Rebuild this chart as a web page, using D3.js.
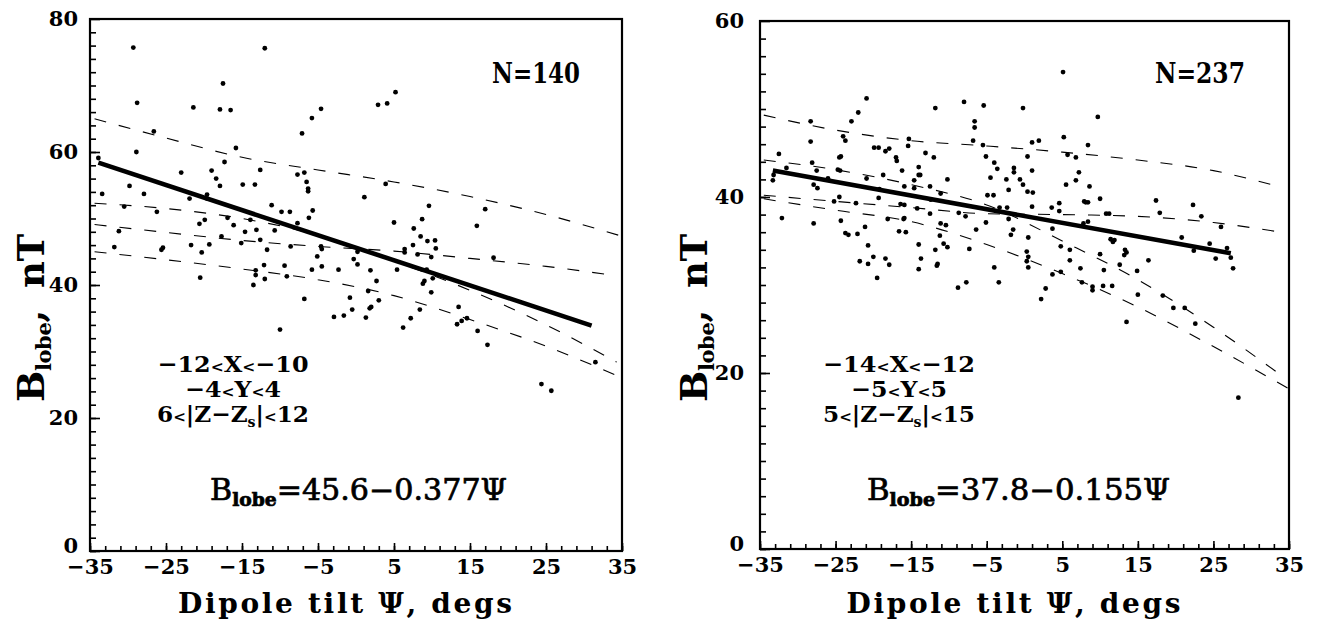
<!DOCTYPE html>
<html>
<head>
<meta charset="utf-8">
<script src="https://cdn.jsdelivr.net/npm/d3@7"></script>
<style>
    body { margin: 0; background: #fff; }
    text { font-family: 'DejaVu Serif', serif; fill: #000; }
</style>
</head>
<body>
<script>
// tick values
const tiltTicks = [-35, -25, -15, -5, 5, 15, 25, 35]
const leftYTicks = [0, 20, 40, 60, 80]
const rightYTicks = [0, 20, 40, 60]

const leftPoints = [
    [-29.3, 75.7], [-12.0, 75.6], [-17.5, 70.3], [-28.8, 67.4], [-21.4, 66.7], [-17.9, 66.4], [-16.5, 66.3],
    [-4.6, 66.5], [-5.8, 65.1], [-7.1, 62.8], [-26.6, 63.1], [-15.8, 60.6], [-28.9, 60.0], [-33.9, 59.1],
    [-17.3, 58.5], [-12.6, 57.3], [-19.0, 57.2], [-23.0, 56.9], [-7.7, 56.6], [-6.8, 56.9], [-6.5, 55.5],
    [-6.3, 54.5], [-6.3, 54.1], [-18.4, 56.0], [-17.9, 54.9], [-14.9, 55.1], [-13.3, 55.1], [-29.8, 54.9],
    [-33.4, 53.7], [-27.9, 53.7], [-21.9, 53.0], [-19.6, 53.6], [-19.6, 53.0], [-11.1, 52.0], [-30.5, 51.8],
    [-26.2, 51.0], [-9.8, 51.0], [-8.7, 51.0], [-5.7, 51.2], [-6.2, 50.1], [-16.9, 50.1], [-13.9, 49.8],
    [-19.9, 49.8], [-20.6, 49.2], [-16.1, 49.0], [-7.7, 49.3], [-13.1, 48.3], [-10.7, 48.2], [-14.6, 48.0],
    [-31.2, 48.1], [-17.7, 47.3], [-12.6, 46.8], [-15.1, 46.3], [-21.7, 46.0], [-19.3, 46.1], [-8.6, 45.8],
    [-4.6, 45.8], [-4.5, 45.4], [-31.8, 45.7], [-25.4, 45.6], [-25.6, 45.3], [-11.7, 45.3], [-20.3, 44.9],
    [-5.1, 44.3], [-0.3, 43.9], [0.2, 43.1], [-12.1, 43.0], [-9.4, 42.9], [-4.5, 42.8], [-13.2, 42.2],
    [-9.1, 41.3], [-13.2, 41.5], [-5.8, 42.3], [-2.3, 42.3], [-20.5, 41.1], [-12.0, 40.9], [-13.5, 40.0],
    [-6.8, 37.9], [-0.8, 38.1], [-0.5, 36.3], [-2.9, 35.2], [-1.6, 35.4], [-10.0, 33.3],
    [5.2, 69.0], [2.9, 67.1], [4.1, 67.3], [3.9, 55.2], [1.1, 53.2], [9.6, 51.9], [17.0, 51.4], [15.9, 48.9],
    [5.0, 49.4], [8.7, 49.9], [7.6, 48.5], [8.5, 47.3], [9.4, 46.6], [10.4, 46.7], [7.5, 46.0], [10.5, 45.5],
    [6.4, 45.4], [6.4, 44.9], [8.1, 44.6], [9.9, 44.2], [0.2, 45.0], [18.1, 44.1], [1.9, 42.2], [5.4, 42.3],
    [9.3, 42.3], [10.1, 41.0], [9.0, 40.6], [8.8, 40.2], [2.7, 40.6], [1.6, 39.1], [9.9, 38.9], [3.0, 37.7],
    [1.8, 36.5], [2.0, 36.7], [8.4, 36.3], [1.3, 35.1], [7.2, 35.0], [6.2, 33.6], [13.5, 36.7], [13.3, 34.1],
    [13.9, 34.6], [14.6, 35.0], [16.0, 33.1], [17.3, 31.0], [31.5, 28.4], [24.4, 25.1], [25.7, 24.1]
]

const rightPoints = [
    [-20.9, 51.2], [-8.0, 50.8], [-5.4, 50.4], [-11.8, 50.1], [-0.2, 50.1], [-22.0, 49.6], [-28.3, 48.6],
    [-22.9, 48.6], [-6.6, 48.6], [-6.6, 47.9], [-24.0, 46.9], [-23.7, 46.4], [-28.3, 46.3], [-15.3, 46.6],
    [-15.4, 45.8], [-6.8, 46.4], [-5.5, 45.9], [-19.9, 45.6], [-19.3, 45.6], [-18.4, 45.2], [-17.9, 45.5],
    [-13.1, 45.0], [-24.5, 44.5], [-24.3, 44.6], [-17.0, 44.5], [-16.9, 44.1], [-12.0, 44.5], [-32.5, 44.9],
    [-28.1, 43.9], [-5.1, 44.6], [-4.0, 43.9], [0.4, 44.6], [-27.5, 43.0], [-31.5, 43.3], [-24.7, 43.1],
    [-24.4, 43.0], [-16.2, 43.0], [-14.0, 43.4], [-14.0, 42.5], [-13.8, 42.5], [-3.6, 43.2], [-1.4, 43.3],
    [-1.4, 42.8], [-18.7, 42.5], [-20.9, 42.1], [-26.0, 42.1], [-4.5, 42.2], [-2.4, 42.0], [-0.6, 42.0],
    [-10.2, 42.0], [-33.3, 41.9], [-33.2, 42.5], [-27.9, 41.4], [-27.4, 41.0], [-14.6, 41.9], [-14.6, 41.0],
    [-15.9, 41.2], [-12.5, 41.2], [-0.2, 41.4], [-2.1, 40.8], [0.4, 40.6], [-19.2, 40.9], [-11.1, 40.4],
    [-4.9, 40.2], [-4.1, 40.2], [-24.5, 40.0], [-19.3, 39.9], [-12.4, 39.7], [-25.2, 39.5], [-22.3, 39.3],
    [-16.4, 39.2], [-15.9, 39.1], [-3.3, 38.8], [-2.3, 38.8], [-14.2, 38.7], [-8.7, 38.2], [-7.8, 37.8],
    [-12.5, 38.1], [-15.9, 37.6], [-16.0, 37.5], [-18.1, 37.5], [-32.1, 37.6], [-27.9, 37.0], [-24.3, 37.3],
    [-21.1, 36.6], [-16.6, 36.1], [-15.7, 36.0], [-11.1, 37.0], [-10.4, 36.8], [-5.1, 37.1], [-2.1, 37.5],
    [-6.4, 36.3], [-1.5, 36.3], [-1.8, 35.7], [-23.7, 35.9], [-23.3, 35.7], [-22.1, 35.8], [-11.2, 35.6],
    [-20.7, 34.5], [-10.7, 34.7], [-10.2, 34.3], [-14.0, 34.6], [-7.3, 34.1], [-11.8, 34.0], [-13.7, 33.0],
    [-20.0, 33.2], [-18.4, 33.0], [-17.9, 32.3], [-21.8, 32.7], [-20.7, 32.4], [-11.5, 32.4], [-11.6, 32.2],
    [-14.0, 31.8], [-4.0, 32.0], [-19.5, 30.8], [-8.8, 29.7], [-7.7, 30.3], [-3.4, 30.3], [0.3, 33.8], [0.3, 32.7],
    [5.1, 54.2], [9.7, 49.1], [5.2, 46.8], [1.0, 46.2], [1.9, 46.4], [8.4, 45.9], [5.7, 44.8], [6.8, 44.5],
    [1.0, 43.0], [7.2, 42.8], [6.8, 41.9], [5.5, 41.4], [8.6, 41.2], [1.1, 40.5], [7.9, 39.5], [8.1, 39.4],
    [8.4, 39.4], [10.0, 39.8], [1.0, 38.9], [3.6, 38.8], [4.6, 39.3], [4.6, 38.4], [17.4, 39.6], [22.3, 39.1],
    [17.9, 38.2], [23.4, 37.8], [10.8, 38.1], [11.2, 38.1], [8.4, 37.2], [7.8, 37.0], [26.0, 36.6], [3.7, 36.4],
    [0.5, 35.4], [20.8, 35.4], [11.4, 35.2], [11.9, 35.1], [11.7, 34.9], [24.5, 34.7], [26.8, 34.2], [22.4, 33.9],
    [4.8, 34.4], [6.0, 34.0], [13.3, 34.0], [13.5, 33.7], [13.2, 33.4], [10.0, 33.5], [0.5, 33.2], [0.5, 32.0],
    [6.0, 32.8], [16.4, 32.8], [25.3, 33.0], [27.3, 33.1], [27.6, 31.9], [12.6, 32.3], [7.4, 31.9], [10.5, 31.7],
    [14.9, 31.6], [3.7, 31.2], [4.8, 31.5], [7.6, 30.3], [9.0, 29.8], [9.0, 29.4], [10.4, 29.9], [11.6, 29.9],
    [2.8, 29.6], [15.0, 28.9], [18.3, 28.8], [19.7, 27.4], [21.2, 27.4], [2.2, 28.4], [22.6, 25.6], [13.5, 25.8],
    [28.3, 17.2]
]

// regression lines (end points)
const leftFit = [[-33.9, 58.4], [31.0, 33.9]]
const rightFit = [[-33.3, 43.0], [27.3, 33.6]]

// dashed model curves
const leftCurves = [
    [[-34.4, 65.0], [-25, 62.1], [-15, 59.2], [-5, 57.3], [5, 55.5], [15, 53.3], [25, 50.6], [34.5, 47.5]],
    [[-34.4, 49.1], [-25, 47.9], [-15, 46.7], [-5, 45.8], [5, 45.1], [15, 44.0], [25, 42.8], [33.6, 41.5]],
    [[-34.4, 52.3], [-25, 51.5], [-15, 50.0], [-5, 47.5], [5, 43.6], [15, 39.2], [25, 34.0], [34.3, 28.4]],
    [[-34.4, 45.0], [-25, 43.8], [-15, 42.4], [-5, 40.8], [5, 38.4], [15, 34.8], [25, 30.8], [34.7, 26.2]]
]
const rightCurves = [
    [[-34.5, 49.3], [-25, 47.6], [-15, 46.4], [-5, 45.8], [5, 45.1], [15, 44.2], [25, 43.0], [32.7, 41.4]],
    [[-34.5, 40.2], [-25, 39.5], [-15, 38.8], [-5, 38.1], [5, 38.0], [15, 37.8], [25, 37.1], [33.2, 36.1]],
    [[-34.5, 44.2], [-25, 43.1], [-15, 41.4], [-5, 39.1], [5, 35.0], [15, 30.6], [25, 25.2], [34.5, 19.4]],
    [[-34.5, 39.8], [-25, 38.5], [-15, 37.2], [-5, 34.6], [5, 31.3], [15, 27.5], [25, 23.0], [35, 18.2]]
]

// text labels
const leftN = 'N=140'
const rightN = 'N=237'
const leftBox = [
    [['−12'], ['<', 'lt'], ['X'], ['<', 'lt'], ['−10']],
    [['−4'], ['<', 'lt'], ['Y'], ['<', 'lt'], ['4']],
    [['6'], ['<', 'lt'], ['|Z−Z'], ['s', 'sub'], ['|'], ['<', 'lt'], ['12']]
]
const rightBox = [
    [['−14'], ['<', 'lt'], ['X'], ['<', 'lt'], ['−12']],
    [['−5'], ['<', 'lt'], ['Y'], ['<', 'lt'], ['5']],
    [['5'], ['<', 'lt'], ['|Z−Z'], ['s', 'sub'], ['|'], ['<', 'lt'], ['15']]
]
const leftEq = '=45.6−0.377Ψ'
const rightEq = '=37.8−0.155Ψ'

const svg = d3.select('body')
    .append('svg')
    .attr('width', 1317)
    .attr('height', 622)

function drawPanel(p) {
    const x = d3.scaleLinear().domain([-35, 35]).range([p.left, p.right])
    const y = d3.scaleLinear().domain([0, p.ymax]).range([p.bottom, p.top])
    const g = svg.append('g')

    const cleanAxis = sel => {
        sel.select('.domain').remove()
        sel.selectAll('line').attr('stroke-width', 1.6)
        sel.attr('font-family', null).attr('font-size', 21).attr('font-weight', 'bold')
    }

    // minor + major ticks on the left
    g.append('g')
        .attr('transform', `translate(${p.left},0)`)
        .call(d3.axisLeft(y).tickValues(d3.range(0, p.ymax, 2)).tickSize(-6).tickFormat(''))
        .call(cleanAxis)
    g.append('g')
        .attr('transform', `translate(${p.left},0)`)
        .call(d3.axisLeft(y).tickValues(p.yTicks).tickSize(-10).tickPadding(p.yPad))
        .call(cleanAxis)
        .call(s => s.selectAll('text').filter(d => d === 0).attr('dy', '0.05em'))

    // minor + major ticks on the bottom
    g.append('g')
        .attr('transform', `translate(0,${p.bottom})`)
        .call(d3.axisBottom(x).tickValues(d3.range(-35, 36, 2)).tickSize(-5).tickFormat(''))
        .call(cleanAxis)
    g.append('g')
        .attr('transform', `translate(0,${p.bottom})`)
        .call(d3.axisBottom(x).tickValues(tiltTicks).tickSize(-8).tickPadding(8)
            .tickFormat(d => d < 0 ? '−' + Math.abs(d) : d))
        .call(cleanAxis)

    // frame
    g.append('rect')
        .attr('x', p.left).attr('y', p.top)
        .attr('width', p.right - p.left).attr('height', p.bottom - p.top)
        .attr('fill', 'none').attr('stroke', '#000').attr('stroke-width', 2.2)

    const line = d3.line().x(d => x(d[0])).y(d => y(d[1])).curve(d3.curveMonotoneX)

    // dashed model curves
    g.selectAll('path.curve')
        .data(p.curves)
        .enter()
        .append('path')
        .attr('class', 'curve')
        .attr('d', line)
        .attr('fill', 'none')
        .attr('stroke', '#000')
        .attr('stroke-width', 1.1)
        .attr('stroke-dasharray', '12,13')

    // regression line
    g.append('path')
        .attr('d', line(p.fit))
        .attr('fill', 'none')
        .attr('stroke', '#000')
        .attr('stroke-width', 4.6)

    // data points
    g.selectAll('circle')
        .data(p.points)
        .enter()
        .append('circle')
        .attr('cx', d => x(d[0]))
        .attr('cy', d => y(d[1]))
        .attr('r', 2.4)
        .attr('fill', '#000')

    // N label
    g.append('text')
        .attr('x', p.nX).attr('y', 83)
        .attr('font-size', 27).attr('font-weight', 'bold')
        .attr('textLength', p.nW).attr('lengthAdjust', 'spacingAndGlyphs')
        .text(p.n)

    // region box text
    p.box.forEach((row, i) => {
        const t = g.append('text')
            .attr('x', p.boxX - p.boxW[i] / 2).attr('y', 372 + i * 25)
            .attr('font-size', 23).attr('font-weight', 'bold')
            .attr('textLength', p.boxW[i]).attr('lengthAdjust', 'spacingAndGlyphs')
        let sub = false
        row.forEach(([s, kind]) => {
            const ts = t.append('tspan').text(s)
            if (kind === 'lt') ts.attr('font-size', 15)
            if (kind === 'sub') ts.attr('font-size', 14).attr('dy', 5)
            else if (sub) ts.attr('dy', -5)
            sub = kind === 'sub'
        })
    })

    // equation
    const eq = g.append('text')
        .attr('x', p.eqX).attr('y', 500)
        .attr('font-size', 29)
        .attr('stroke', '#000').attr('stroke-width', 0.7)
        .attr('textLength', p.eqW).attr('lengthAdjust', 'spacingAndGlyphs')
    eq.append('tspan').text('B')
    eq.append('tspan').text('lobe').attr('font-size', 18).attr('font-weight', 'bold').attr('dy', 6)
    eq.append('tspan').text(p.eq).attr('dy', -6)

    // axis titles
    g.append('text')
        .attr('x', (p.left + p.right) / 2 - 11).attr('y', 613)
        .attr('text-anchor', 'middle')
        .attr('font-size', 28).attr('font-weight', 'bold')
        .attr('textLength', 334).attr('lengthAdjust', 'spacing')
        .text('Dipole tilt Ψ, degs')

    const yl = g.append('text')
        .attr('transform', `translate(${p.ylabX},402) rotate(-90)`)
        .attr('font-size', 37).attr('font-weight', 'bold')
        .attr('textLength', 168).attr('lengthAdjust', 'spacing')
    yl.append('tspan').text('B')
    yl.append('tspan').text('lobe').attr('font-size', 21).attr('dy', 7)
    yl.append('tspan').text(',').attr('dy', -7)
    yl.append('tspan').text('nT').attr('dx', 22)
}

drawPanel({
    left: 90, right: 622, top: 19, bottom: 551, ymax: 80, yTicks: leftYTicks, yPad: 12,
    points: leftPoints, fit: leftFit, curves: leftCurves,
    n: leftN, nX: 492, nW: 88, box: leftBox, boxX: 233, boxW: [151, 96, 152],
    eq: leftEq, eqX: 210, eqW: 297, ylabX: 44
})

drawPanel({
    left: 760, right: 1289, top: 21, bottom: 549, ymax: 60, yTicks: rightYTicks, yPad: 16,
    points: rightPoints, fit: rightFit, curves: rightCurves,
    n: rightN, nX: 1155, nW: 90, box: rightBox, boxX: 899, boxW: [152, 96, 152],
    eq: rightEq, eqX: 867, eqW: 303, ylabX: 707
})
</script>
</body>
</html>
